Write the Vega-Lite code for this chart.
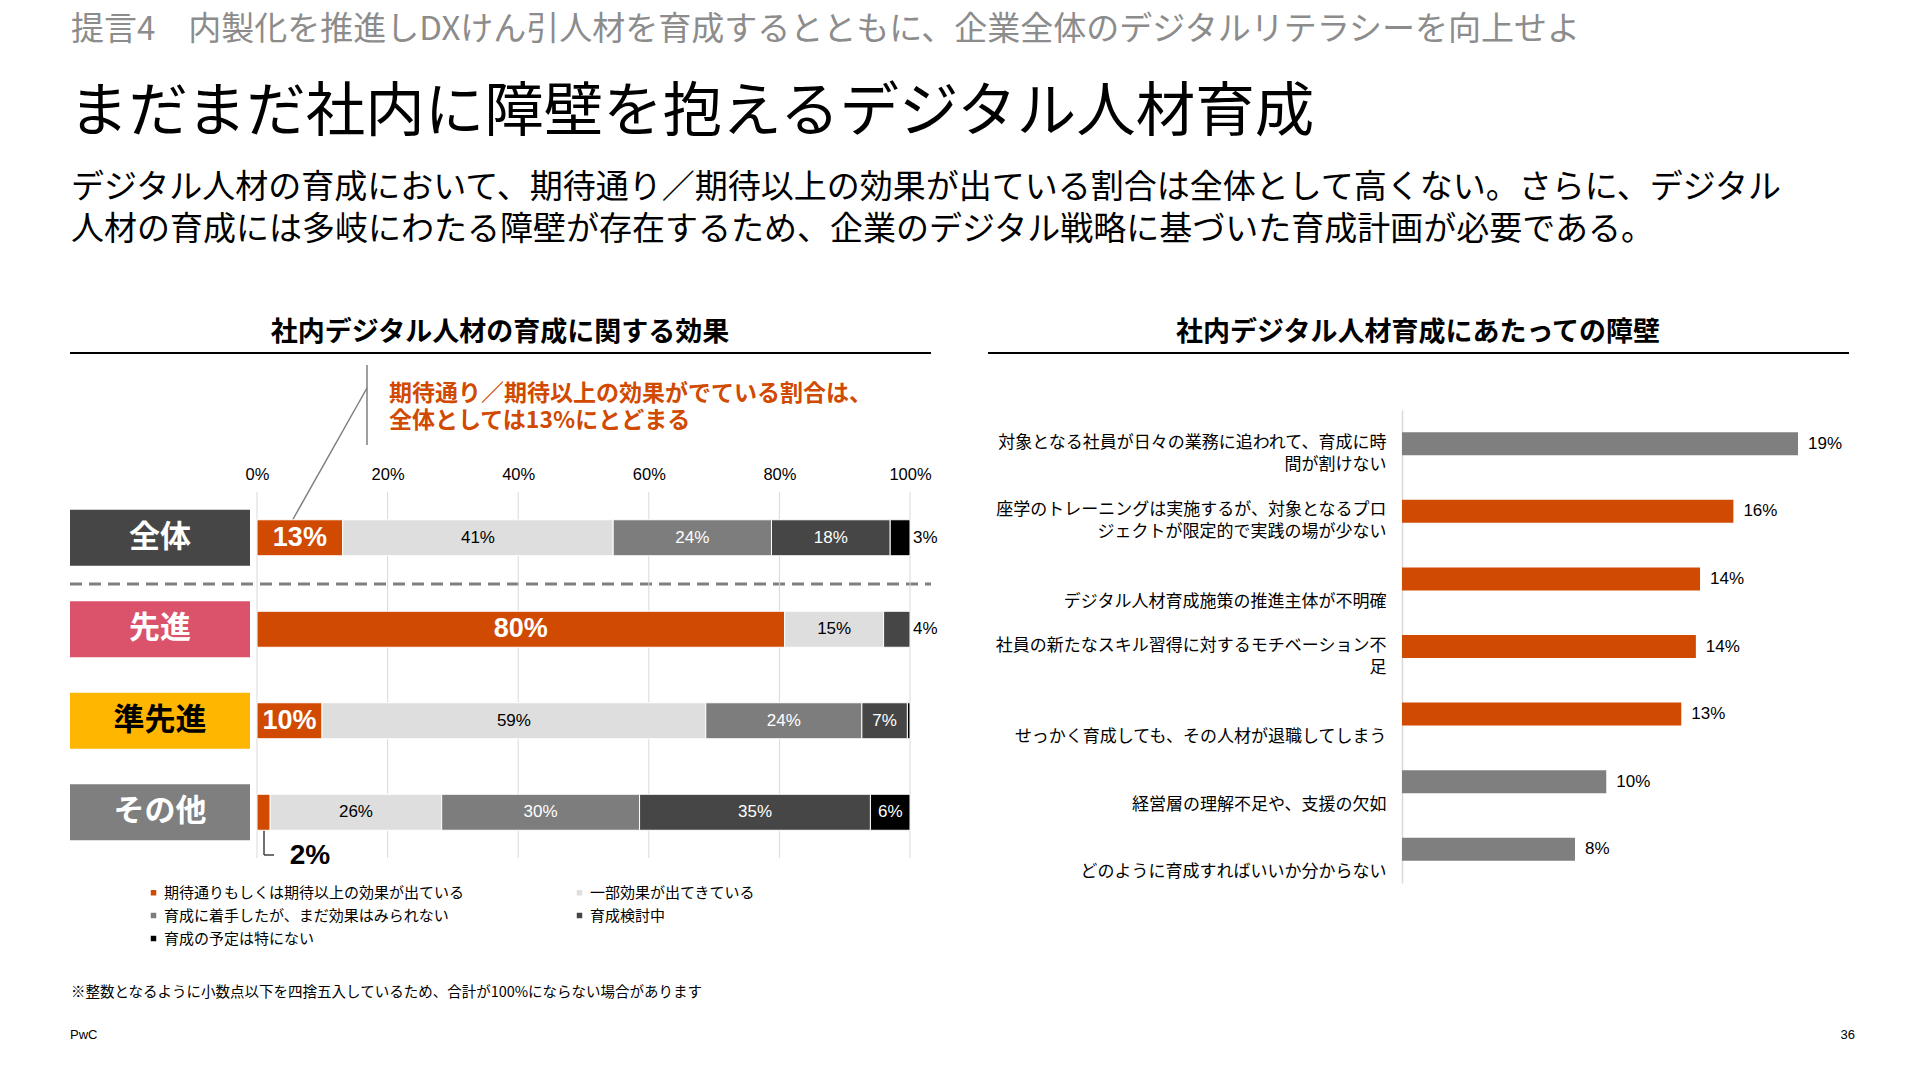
{
  "$schema": "https://vega.github.io/schema/vega-lite/v6.json",
  "width": 1920,
  "height": 1080,
  "padding": 0,
  "autosize": {"type": "none"},
  "background": "#ffffff",
  "config": {"view": {"stroke": null}, "font": "Noto Sans CJK JP"},
  "datasets": {
    "effect": [
      {"group": "全体", "cat": "期待通りもしくは期待以上の効果が出ている", "order": 1, "value": 13},
      {"group": "全体", "cat": "一部効果が出てきている", "order": 2, "value": 41},
      {"group": "全体", "cat": "育成に着手したが、まだ効果はみられない", "order": 3, "value": 24},
      {"group": "全体", "cat": "育成検討中", "order": 4, "value": 18},
      {"group": "全体", "cat": "育成の予定は特にない", "order": 5, "value": 3},
      {"group": "先進", "cat": "期待通りもしくは期待以上の効果が出ている", "order": 1, "value": 80},
      {"group": "先進", "cat": "一部効果が出てきている", "order": 2, "value": 15},
      {"group": "先進", "cat": "育成検討中", "order": 4, "value": 4},
      {"group": "準先進", "cat": "期待通りもしくは期待以上の効果が出ている", "order": 1, "value": 10},
      {"group": "準先進", "cat": "一部効果が出てきている", "order": 2, "value": 59},
      {"group": "準先進", "cat": "育成に着手したが、まだ効果はみられない", "order": 3, "value": 24},
      {"group": "準先進", "cat": "育成検討中", "order": 4, "value": 7},
      {"group": "準先進", "cat": "育成の予定は特にない", "order": 5, "value": 0.4},
      {"group": "その他", "cat": "期待通りもしくは期待以上の効果が出ている", "order": 1, "value": 2},
      {"group": "その他", "cat": "一部効果が出てきている", "order": 2, "value": 26},
      {"group": "その他", "cat": "育成に着手したが、まだ効果はみられない", "order": 3, "value": 30},
      {"group": "その他", "cat": "育成検討中", "order": 4, "value": 35},
      {"group": "その他", "cat": "育成の予定は特にない", "order": 5, "value": 6}
    ],
    "groups": [{"group": "全体"}, {"group": "先進"}, {"group": "準先進"}, {"group": "その他"}],
    "ticks": [{"t": 0}, {"t": 0.2}, {"t": 0.4}, {"t": 0.6}, {"t": 0.8}, {"t": 1}],
    "barriers": [
      {"item": "対象となる社員が日々の業務に追われて、育成に時間が割けない", "value": 0.19},
      {"item": "座学のトレーニングは実施するが、対象となるプロジェクトが限定的で実践の場が少ない", "value": 0.159},
      {"item": "デジタル人材育成施策の推進主体が不明確", "value": 0.143},
      {"item": "社員の新たなスキル習得に対するモチベーション不足", "value": 0.141},
      {"item": "せっかく育成しても、その人材が退職してしまう", "value": 0.134},
      {"item": "経営層の理解不足や、支援の欠如", "value": 0.098},
      {"item": "どのように育成すればいいか分からない", "value": 0.083}
    ]
  },
  "data": {"values": [{}]},
  "layer": [
    {"mark": {"type": "text", "text": "提言4　内製化を推進しDXけん引人材を育成するとともに、企業全体のデジタルリテラシーを向上せよ", "align": "left", "baseline": "middle", "fontSize": 33, "color": "#8C8C8C"}, "encoding": {"x": {"value": 71}, "y": {"value": 30}}},
    {"mark": {"type": "text", "text": "まだまだ社内に障壁を抱えるデジタル人材育成", "align": "left", "baseline": "middle", "fontSize": 59.5, "color": "#000000"}, "encoding": {"x": {"value": 69}, "y": {"value": 113}}},
    {"mark": {"type": "text", "text": ["デジタル人材の育成において、期待通り／期待以上の効果が出ている割合は全体として高くない。さらに、デジタル", "人材の育成には多岐にわたる障壁が存在するため、企業のデジタル戦略に基づいた育成計画が必要である。"], "lineHeight": 42, "align": "left", "baseline": "middle", "fontSize": 33, "color": "#000000"}, "encoding": {"x": {"value": 71}, "y": {"value": 188}}},
    {"mark": {"type": "text", "text": "社内デジタル人材の育成に関する効果", "align": "center", "baseline": "middle", "fontSize": 27, "fontWeight": "bold", "color": "#000000"}, "encoding": {"x": {"value": 500}, "y": {"value": 333}}},
    {"mark": {"type": "text", "text": "社内デジタル人材育成にあたっての障壁", "align": "center", "baseline": "middle", "fontSize": 27, "fontWeight": "bold", "color": "#000000"}, "encoding": {"x": {"value": 1418}, "y": {"value": 333}}},
    {"mark": {"type": "rule", "color": "#000000", "strokeWidth": 2}, "encoding": {"x": {"value": 70}, "x2": {"value": 931}, "y": {"value": 353}}},
    {"mark": {"type": "rule", "color": "#000000", "strokeWidth": 2}, "encoding": {"x": {"value": 988}, "x2": {"value": 1849}, "y": {"value": 353}}},
    {"mark": {"type": "rule", "color": "#7F7F7F", "strokeWidth": 1.5}, "encoding": {"x": {"value": 367}, "y": {"value": 365}, "y2": {"value": 445}}},
    {"mark": {"type": "rule", "color": "#7F7F7F", "strokeWidth": 1.5}, "encoding": {"x": {"value": 367}, "y": {"value": 388}, "x2": {"value": 292}, "y2": {"value": 521}}},
    {"mark": {"type": "text", "text": ["期待通り／期待以上の効果がでている割合は、", "全体としては13%にとどまる"], "lineHeight": 27, "align": "left", "baseline": "middle", "fontSize": 23, "fontWeight": "bold", "color": "#D04A02"}, "encoding": {"x": {"value": 389}, "y": {"value": 394}}},
    {"mark": {"type": "rule", "color": "#7F7F7F", "strokeWidth": 3, "strokeDash": [12, 7]}, "encoding": {"x": {"value": 70}, "x2": {"value": 931}, "y": {"value": 584}}},
    {"mark": {"type": "rule", "color": "#404040", "strokeWidth": 1.5}, "encoding": {"x": {"value": 264}, "y": {"value": 830}, "y2": {"value": 855}}},
    {"mark": {"type": "rule", "color": "#404040", "strokeWidth": 1.5}, "encoding": {"x": {"value": 264}, "x2": {"value": 274}, "y": {"value": 855}}},
    {"mark": {"type": "text", "text": "※整数となるように小数点以下を四捨五入しているため、合計が100%にならない場合があります", "align": "left", "baseline": "middle", "fontSize": 14.5, "color": "#000000"}, "encoding": {"x": {"value": 71}, "y": {"value": 993}}},
    {"mark": {"type": "text", "text": "PwC", "align": "left", "baseline": "middle", "fontSize": 13, "font": "Liberation Sans", "color": "#000000"}, "encoding": {"x": {"value": 70}, "y": {"value": 1035}}},
    {"mark": {"type": "text", "text": "36", "align": "right", "baseline": "middle", "fontSize": 13, "font": "Liberation Sans", "color": "#000000"}, "encoding": {"x": {"value": 1855}, "y": {"value": 1035}}},
    {
      "layer": [
        {
          "data": {"name": "ticks"},
          "mark": {"type": "rule", "color": "#D9D9D9", "strokeWidth": 1},
          "encoding": {
            "x": {"field": "t", "type": "quantitative", "scale": {"domain": [0, 1], "range": [257, 910]},
              "axis": {"orient": "top", "offset": -492, "domain": false, "ticks": false, "grid": false, "labelPadding": 10, "labelFlush": false, "format": ".0%", "labelFont": "Liberation Sans", "labelFontSize": 16.5, "labelColor": "#000000", "title": null, "values": [0, 0.2, 0.4, 0.6, 0.8, 1]}},
            "y": {"value": 492},
            "y2": {"value": 858}
          }
        },
        {
          "data": {"name": "groups"},
          "mark": {"type": "bar", "height": 56},
          "encoding": {
            "y": {"field": "group", "type": "nominal", "sort": null, "scale": {"domain": ["全体", "先進", "準先進", "その他"], "range": [492, 858], "paddingInner": 0, "paddingOuter": 0}, "axis": null},
            "x": {"value": 70},
            "x2": {"value": 250},
            "fill": {"field": "group", "type": "nominal", "scale": {"domain": ["全体", "先進", "準先進", "その他"], "range": ["#464646", "#DB536A", "#FFB600", "#7F7F7F"]}, "legend": null}
          }
        },
        {
          "data": {"name": "groups"},
          "mark": {"type": "text", "fontSize": 31, "fontWeight": "bold", "align": "center", "baseline": "middle"},
          "encoding": {
            "y": {"field": "group", "type": "nominal", "sort": null, "scale": {"domain": ["全体", "先進", "準先進", "その他"], "range": [492, 858], "paddingInner": 0, "paddingOuter": 0}, "axis": null},
            "x": {"value": 160},
            "text": {"field": "group"},
            "color": {"condition": {"test": "datum.group === '準先進'", "value": "#000000"}, "value": "#ffffff"}
          }
        },
        {
          "data": {"name": "effect"},
          "transform": [
            {"stack": "value", "groupby": ["group"], "sort": [{"field": "order"}], "offset": "normalize", "as": ["v0", "v1"]}
          ],
          "mark": {"type": "bar", "height": 36, "stroke": "#ffffff", "strokeWidth": 1},
          "encoding": {
            "y": {"field": "group", "type": "nominal", "sort": null, "scale": {"domain": ["全体", "先進", "準先進", "その他"], "range": [492, 858], "paddingInner": 0, "paddingOuter": 0}, "axis": null},
            "x": {"field": "v0", "type": "quantitative", "scale": {"domain": [0, 1], "range": [257, 910]}},
            "x2": {"field": "v1"},
            "color": {"field": "cat", "type": "nominal",
              "scale": {"domain": ["期待通りもしくは期待以上の効果が出ている", "一部効果が出てきている", "育成に着手したが、まだ効果はみられない", "育成検討中", "育成の予定は特にない"], "range": ["#D04A02", "#DEDEDE", "#7D7D7D", "#464646", "#000000"]},
              "legend": {"orient": "none", "legendX": 146, "legendY": 885, "direction": "horizontal", "columns": 2, "title": null, "symbolType": "square", "symbolSize": 30, "symbolStrokeWidth": 0, "labelFontSize": 15, "labelFont": "Noto Sans CJK JP", "labelColor": "#000000", "labelLimit": 0, "columnPadding": 107, "rowPadding": 7, "labelOffset": 3}}
          }
        },
        {
          "data": {"name": "effect"},
          "transform": [
            {"stack": "value", "groupby": ["group"], "sort": [{"field": "order"}], "offset": "normalize", "as": ["v0", "v1"]},
            {"calculate": "(datum.v0 + datum.v1) / 2", "as": "mid"},
            {"calculate": "datum.value + '%'", "as": "label"},
            {"filter": "datum.order === 1 && datum.value >= 5"}
          ],
          "mark": {"type": "text", "font": "Liberation Sans", "fontSize": 27, "fontWeight": "bold", "color": "#ffffff", "align": "center", "baseline": "middle"},
          "encoding": {
            "y": {"field": "group", "type": "nominal", "sort": null, "scale": {"domain": ["全体", "先進", "準先進", "その他"], "range": [492, 858], "paddingInner": 0, "paddingOuter": 0}, "axis": null},
            "x": {"field": "mid", "type": "quantitative", "scale": {"domain": [0, 1], "range": [257, 910]}},
            "text": {"field": "label"}
          }
        },
        {
          "data": {"name": "effect"},
          "transform": [
            {"stack": "value", "groupby": ["group"], "sort": [{"field": "order"}], "offset": "normalize", "as": ["v0", "v1"]},
            {"calculate": "datum.value + '%'", "as": "label"},
            {"filter": "datum.order === 1 && datum.value < 5"}
          ],
          "mark": {"type": "text", "font": "Liberation Sans", "fontSize": 28, "fontWeight": "bold", "color": "#000000", "align": "center", "baseline": "middle", "dx": 53, "dy": 44},
          "encoding": {
            "y": {"field": "group", "type": "nominal", "sort": null, "scale": {"domain": ["全体", "先進", "準先進", "その他"], "range": [492, 858], "paddingInner": 0, "paddingOuter": 0}, "axis": null},
            "x": {"field": "v0", "type": "quantitative", "scale": {"domain": [0, 1], "range": [257, 910]}},
            "text": {"field": "label"}
          }
        },
        {
          "data": {"name": "effect"},
          "transform": [
            {"stack": "value", "groupby": ["group"], "sort": [{"field": "order"}], "offset": "normalize", "as": ["v0", "v1"]},
            {"calculate": "(datum.v0 + datum.v1) / 2", "as": "mid"},
            {"calculate": "datum.value + '%'", "as": "label"},
            {"filter": "datum.order > 1 && datum.value >= 5"}
          ],
          "mark": {"type": "text", "font": "Liberation Sans", "fontSize": 17, "align": "center", "baseline": "middle"},
          "encoding": {
            "y": {"field": "group", "type": "nominal", "sort": null, "scale": {"domain": ["全体", "先進", "準先進", "その他"], "range": [492, 858], "paddingInner": 0, "paddingOuter": 0}, "axis": null},
            "x": {"field": "mid", "type": "quantitative", "scale": {"domain": [0, 1], "range": [257, 910]}},
            "text": {"field": "label"},
            "color": {"condition": {"test": "datum.order === 2", "value": "#000000"}, "value": "#ffffff"}
          }
        },
        {
          "data": {"name": "effect"},
          "transform": [
            {"stack": "value", "groupby": ["group"], "sort": [{"field": "order"}], "offset": "normalize", "as": ["v0", "v1"]},
            {"calculate": "datum.value + '%'", "as": "label"},
            {"filter": "datum.order > 1 && datum.value >= 1 && datum.value < 5"}
          ],
          "mark": {"type": "text", "font": "Liberation Sans", "fontSize": 17, "align": "left", "baseline": "middle", "dx": 3, "color": "#000000"},
          "encoding": {
            "y": {"field": "group", "type": "nominal", "sort": null, "scale": {"domain": ["全体", "先進", "準先進", "その他"], "range": [492, 858], "paddingInner": 0, "paddingOuter": 0}, "axis": null},
            "x": {"field": "v1", "type": "quantitative", "scale": {"domain": [0, 1], "range": [257, 910]}},
            "text": {"field": "label"}
          }
        }
      ]
    },
    {
      "layer": [
        {
          "data": {"name": "barriers"},
          "mark": {"type": "bar", "height": 23},
          "encoding": {
            "y": {"field": "item", "type": "nominal", "sort": null,
              "scale": {"domain": ["対象となる社員が日々の業務に追われて、育成に時間が割けない", "座学のトレーニングは実施するが、対象となるプロジェクトが限定的で実践の場が少ない", "デジタル人材育成施策の推進主体が不明確", "社員の新たなスキル習得に対するモチベーション不足", "せっかく育成しても、その人材が退職してしまう", "経営層の理解不足や、支援の欠如", "どのように育成すればいいか分からない"], "range": [410, 883], "paddingInner": 0, "paddingOuter": 0},
              "axis": {"orient": "left", "offset": -1402, "domain": true, "domainColor": "#D9D9D9", "domainWidth": 1.5, "ticks": false, "grid": false, "title": null, "labelAlign": "right", "labelBaseline": "bottom",
                "labelOffset": {"condition": {"test": "length(datum.label) > 23", "value": 8}, "value": 32},
                "labelPadding": 16, "labelFontSize": 17, "labelFont": "Noto Sans CJK JP", "labelColor": "#000000", "labelLimit": 0, "labelLineHeight": 22,
                "labelExpr": "length(datum.label) > 23 ? [substring(datum.label, 0, 23), substring(datum.label, 23)] : datum.label"}},
            "x": {"field": "value", "type": "quantitative", "scale": {"domain": [0, 0.19], "range": [1402, 1798]}, "axis": null},
            "color": {"field": "item", "type": "nominal",
              "scale": {"domain": ["対象となる社員が日々の業務に追われて、育成に時間が割けない", "座学のトレーニングは実施するが、対象となるプロジェクトが限定的で実践の場が少ない", "デジタル人材育成施策の推進主体が不明確", "社員の新たなスキル習得に対するモチベーション不足", "せっかく育成しても、その人材が退職してしまう", "経営層の理解不足や、支援の欠如", "どのように育成すればいいか分からない"], "range": ["#7F7F7F", "#D04A02", "#D04A02", "#D04A02", "#D04A02", "#7F7F7F", "#7F7F7F"]},
              "legend": null}
          }
        },
        {
          "data": {"name": "barriers"},
          "mark": {"type": "text", "font": "Liberation Sans", "fontSize": 17, "align": "left", "baseline": "middle", "dx": 10, "color": "#000000"},
          "encoding": {
            "y": {"field": "item", "type": "nominal", "sort": null,
              "scale": {"domain": ["対象となる社員が日々の業務に追われて、育成に時間が割けない", "座学のトレーニングは実施するが、対象となるプロジェクトが限定的で実践の場が少ない", "デジタル人材育成施策の推進主体が不明確", "社員の新たなスキル習得に対するモチベーション不足", "せっかく育成しても、その人材が退職してしまう", "経営層の理解不足や、支援の欠如", "どのように育成すればいいか分からない"], "range": [410, 883], "paddingInner": 0, "paddingOuter": 0}},
            "x": {"field": "value", "type": "quantitative", "scale": {"domain": [0, 0.19], "range": [1402, 1798]}},
            "text": {"field": "value", "type": "quantitative", "format": ".0%"}
          }
        }
      ]
    }
  ],
  "resolve": {"scale": {"x": "independent", "y": "independent", "color": "independent", "fill": "independent"}}
}
